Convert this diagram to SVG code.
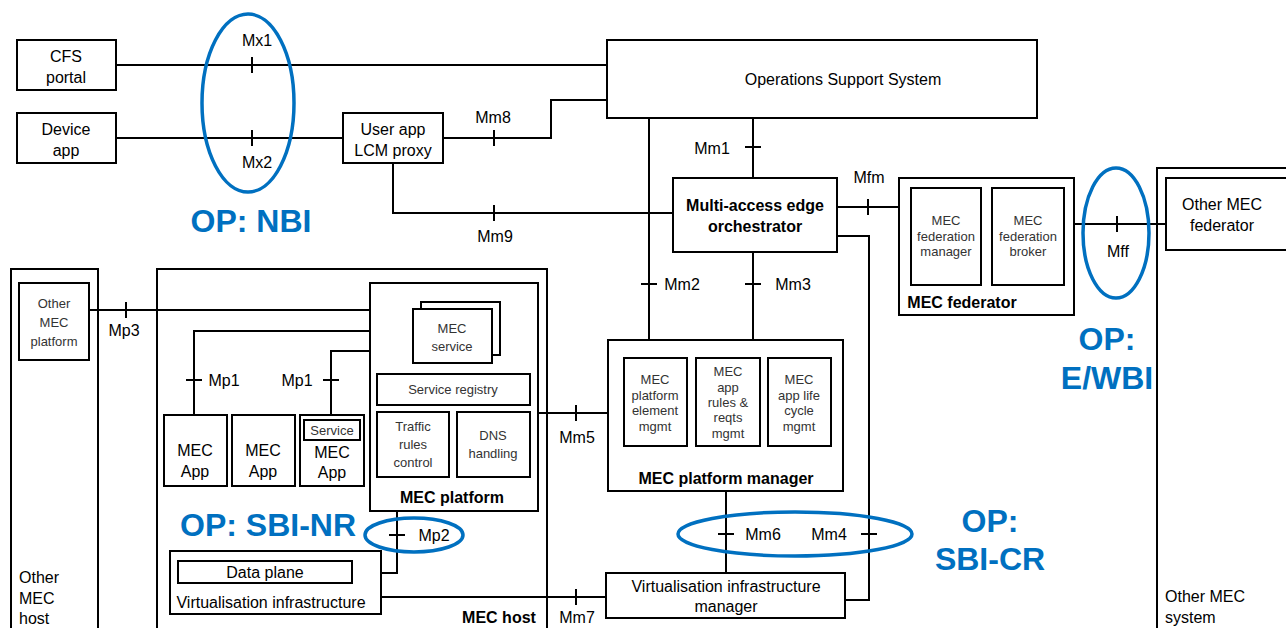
<svg xmlns="http://www.w3.org/2000/svg" width="1286" height="628" viewBox="0 0 1286 628">
<style>
rect{fill:#fff;stroke:#000;stroke-width:2}
.c path,.c line{fill:none;stroke:#000;stroke-width:2}
text{font-family:"Liberation Sans",Arial,sans-serif;font-size:16px;fill:#000;text-anchor:middle}
.s{font-size:13px;fill:#333}
.b{font-weight:bold}
.l{text-anchor:start}
.op{font-weight:bold;font-size:32px;fill:#0070C0}
.e{fill:none;stroke:#0070C0;stroke-width:3.5}
</style>
<rect x="0" y="0" width="1286" height="628" style="fill:#fff;stroke:none"/>

<!-- Containers -->
<g id="other-mec-host"><rect x="11" y="269" width="87" height="370"/><text class="l" x="19" y="583">Other</text><text class="l" x="19" y="604">MEC</text><text class="l" x="19" y="624">host</text></g>
<g id="mec-host"><rect x="157" y="269" width="390" height="370"/><text class="b" x="499" y="623">MEC host</text></g>
<g id="other-mec-system"><rect x="1157" y="168" width="140" height="470"/><text class="l" x="1165" y="602">Other MEC</text><text class="l" x="1165" y="623">system</text></g>

<g class="c" id="connectors">
<line x1="116" y1="65" x2="607" y2="65"/><line x1="252" y1="57" x2="252" y2="73"/>
<line x1="116" y1="138" x2="343" y2="138"/><line x1="252" y1="130" x2="252" y2="146"/>
<path d="M443 138H551V100H607"/><line x1="494" y1="130" x2="494" y2="146"/>
<path d="M393 163V213H673"/><line x1="494" y1="205" x2="494" y2="221"/>
<line x1="649" y1="118" x2="649" y2="340"/><line x1="641" y1="284" x2="657" y2="284"/>
<line x1="753" y1="118" x2="753" y2="178"/><line x1="745" y1="147" x2="761" y2="147"/>
<line x1="753" y1="252" x2="753" y2="340"/><line x1="745" y1="284" x2="761" y2="284"/>
<line x1="837" y1="207" x2="899" y2="207"/><line x1="868" y1="199" x2="868" y2="215"/>
<path d="M837 236H869V600H845"/><line x1="861" y1="534" x2="877" y2="534"/>
<line x1="1074" y1="224" x2="1165" y2="224"/><line x1="1117" y1="216" x2="1117" y2="232"/>
<line x1="726" y1="491" x2="726" y2="573"/><line x1="718" y1="534" x2="734" y2="534"/>
<line x1="538" y1="413" x2="608" y2="413"/><line x1="576" y1="405" x2="576" y2="421"/>
<line x1="381" y1="597" x2="606" y2="597"/><line x1="576" y1="589" x2="576" y2="605"/>
<line x1="89" y1="310" x2="370" y2="310"/><line x1="126" y1="302" x2="126" y2="318"/>
<path d="M370 331H194V415"/><line x1="186" y1="380" x2="202" y2="380"/>
<path d="M370 351H331V415"/><line x1="323" y1="380" x2="339" y2="380"/>
<path d="M397 511V573H352"/><line x1="389" y1="535" x2="405" y2="535"/>
</g>

<g id="labels">
<text x="257" y="46">Mx1</text><text x="257" y="168">Mx2</text>
<text x="493" y="123">Mm8</text><text x="495" y="242">Mm9</text>
<text x="712" y="154">Mm1</text><text x="869" y="183">Mfm</text>
<text x="682" y="290">Mm2</text><text x="793" y="290">Mm3</text>
<text x="1118" y="257">Mff</text>
<text x="577" y="443">Mm5</text><text x="577" y="623">Mm7</text>
<text x="763" y="540">Mm6</text><text x="829" y="540">Mm4</text>
<text x="124" y="336">Mp3</text>
<text x="224" y="386">Mp1</text><text x="297" y="386">Mp1</text>
<text x="434" y="541">Mp2</text>
</g>

<g id="cfs-portal"><rect x="17" y="40" width="99" height="50"/><text x="66" y="62">CFS</text><text x="66" y="83">portal</text></g>
<g id="device-app"><rect x="17" y="113" width="99" height="50"/><text x="66" y="135">Device</text><text x="66" y="156">app</text></g>
<g id="user-app-lcm-proxy"><rect x="343" y="113" width="100" height="50"/><text x="393" y="135">User app</text><text x="393" y="156">LCM proxy</text></g>
<g id="oss"><rect x="607" y="40" width="430" height="78"/><text x="843" y="85">Operations Support System</text></g>
<g id="orchestrator"><rect x="673" y="178" width="164" height="74"/><text class="b" x="755" y="211">Multi-access edge</text><text class="b" x="755" y="232">orchestrator</text></g>
<g id="mec-federator"><rect x="899" y="178" width="175" height="137"/>
<rect x="911" y="188" width="70" height="97"/><text class="s" x="946" y="225">MEC</text><text class="s" x="946" y="241">federation</text><text class="s" x="946" y="256">manager</text>
<rect x="992" y="188" width="72" height="97"/><text class="s" x="1028" y="225">MEC</text><text class="s" x="1028" y="241">federation</text><text class="s" x="1028" y="256">broker</text>
<text class="b" x="962" y="308">MEC federator</text></g>
<g id="other-mec-federator"><rect x="1166" y="178" width="130" height="72"/><text x="1222" y="210">Other MEC</text><text x="1222" y="231">federator</text></g>
<g id="mec-platform-manager"><rect x="608" y="340" width="235" height="151"/>
<rect x="624" y="358" width="63" height="88"/><text class="s" x="655" y="384">MEC</text><text class="s" x="655" y="400">platform</text><text class="s" x="655" y="415">element</text><text class="s" x="655" y="431">mgmt</text>
<rect x="696" y="358" width="64" height="88"/><text class="s" x="728" y="376">MEC</text><text class="s" x="728" y="392">app</text><text class="s" x="728" y="407">rules &amp;</text><text class="s" x="728" y="422">reqts</text><text class="s" x="728" y="438">mgmt</text>
<rect x="768" y="358" width="63" height="88"/><text class="s" x="799" y="384">MEC</text><text class="s" x="799" y="400">app life</text><text class="s" x="799" y="415">cycle</text><text class="s" x="799" y="431">mgmt</text>
<text class="b" x="726" y="484">MEC platform manager</text></g>
<g id="vim"><rect x="606" y="573" width="239" height="45"/><text x="726" y="592">Virtualisation infrastructure</text><text x="726" y="612">manager</text></g>
<g id="other-mec-platform"><rect x="19" y="283" width="70" height="77"/><text class="s" x="54" y="308">Other</text><text class="s" x="54" y="327">MEC</text><text class="s" x="54" y="346">platform</text></g>
<g id="mec-platform"><rect x="370" y="283" width="168" height="228"/>
<rect x="421" y="302" width="79" height="53"/><rect x="413" y="309" width="79" height="54"/><text class="s" x="452" y="333">MEC</text><text class="s" x="452" y="351">service</text>
<rect x="377" y="374" width="153" height="31"/><text class="s" x="453" y="394">Service registry</text>
<rect x="377" y="412" width="72" height="65"/><text class="s" x="413" y="431">Traffic</text><text class="s" x="413" y="449">rules</text><text class="s" x="413" y="467">control</text>
<rect x="457" y="412" width="73" height="65"/><text class="s" x="493" y="440">DNS</text><text class="s" x="493" y="458">handling</text>
<text class="b" x="452" y="503">MEC platform</text></g>
<g id="mec-app-1"><rect x="164" y="415" width="63" height="71"/><text x="195" y="456">MEC</text><text x="195" y="477">App</text></g>
<g id="mec-app-2"><rect x="232" y="415" width="63" height="71"/><text x="263" y="456">MEC</text><text x="263" y="477">App</text></g>
<g id="mec-app-3"><rect x="300" y="415" width="64" height="71"/><rect x="304" y="420" width="56" height="20"/><text class="s" x="332" y="435">Service</text><text x="332" y="458">MEC</text><text x="332" y="478">App</text></g>
<g id="virtualisation-infrastructure"><rect x="170" y="551" width="211" height="63"/><rect x="178" y="561" width="174" height="22"/><text x="265" y="578">Data plane</text><text x="271" y="608">Virtualisation infrastructure</text></g>

<g id="op-annotations">
<ellipse class="e" cx="248" cy="103" rx="46" ry="89"/>
<ellipse class="e" cx="1116" cy="233" rx="33" ry="65"/>
<ellipse class="e" cx="795" cy="534" rx="117" ry="22"/>
<ellipse class="e" cx="414" cy="535" rx="49" ry="17"/>
<text class="op" x="251" y="232">OP: NBI</text>
<text class="op" x="1107" y="350">OP:</text><text class="op" x="1107" y="389">E/WBI</text>
<text class="op" x="990" y="532">OP:</text><text class="op" x="990" y="570">SBI-CR</text>
<text class="op" x="268" y="536">OP: SBI-NR</text>
</g>
</svg>
